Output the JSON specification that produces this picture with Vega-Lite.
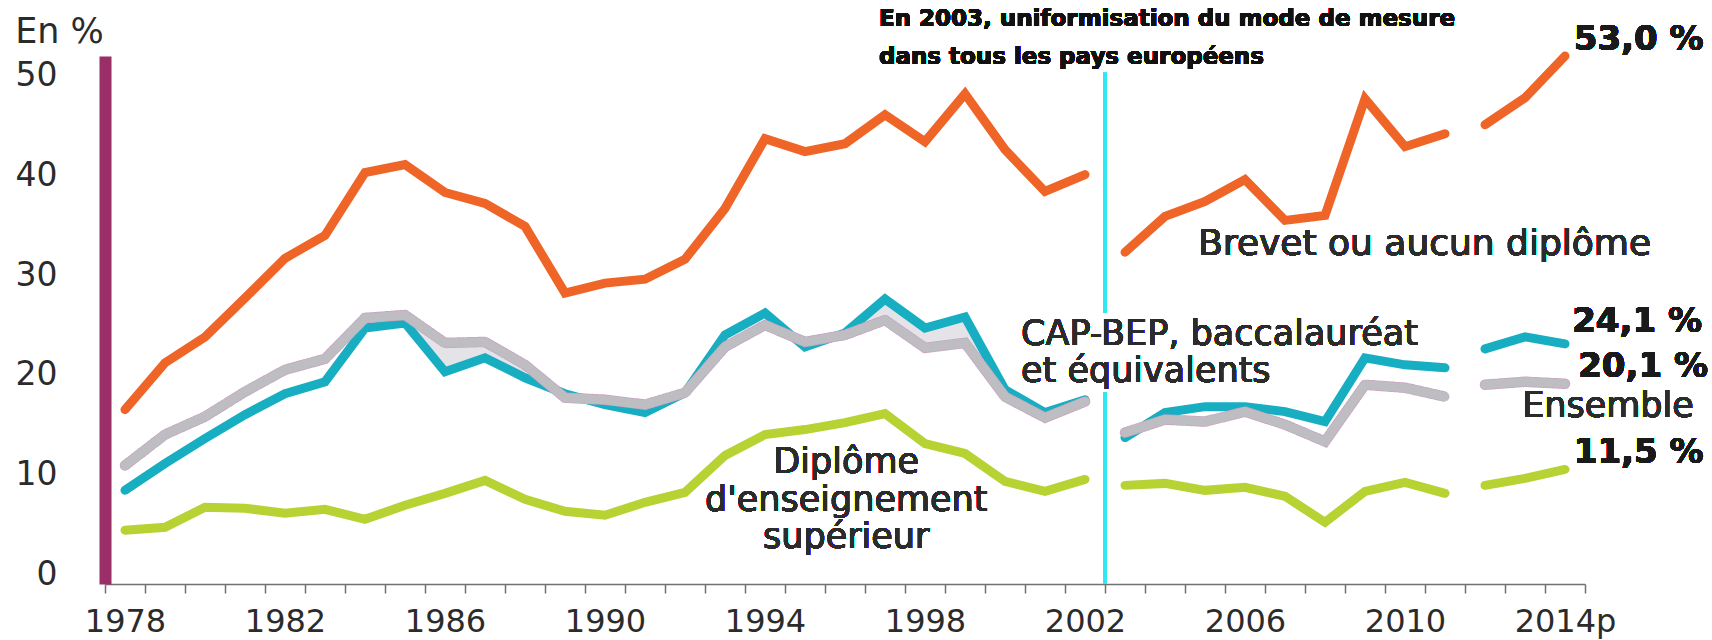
{
  "$schema": "https://vega.github.io/schema/vega-lite/v6.json",
  "width": 1480,
  "height": 528,
  "autosize": {"type": "none"},
  "padding": {"left": 105, "top": 56, "right": 127, "bottom": 56},
  "background": "white",
  "config": {"view": {"stroke": null}, "font": "DejaVu Sans"},
  "data": {
    "values": [
      {"year": 1978, "seg": "a", "brevet": 17.5, "cap": 9.4, "ensemble": 11.9, "sup": 5.4},
      {"year": 1979, "seg": "a", "brevet": 22.2, "cap": 12.1, "ensemble": 15.0, "sup": 5.7},
      {"year": 1980, "seg": "a", "brevet": 24.8, "cap": 14.6, "ensemble": 16.8, "sup": 7.7},
      {"year": 1981, "seg": "a", "brevet": 28.7, "cap": 17.0, "ensemble": 19.3, "sup": 7.6},
      {"year": 1982, "seg": "a", "brevet": 32.7, "cap": 19.1, "ensemble": 21.5, "sup": 7.1},
      {"year": 1983, "seg": "a", "brevet": 35.0, "cap": 20.3, "ensemble": 22.6, "sup": 7.5},
      {"year": 1984, "seg": "a", "brevet": 41.3, "cap": 25.7, "ensemble": 26.7, "sup": 6.5},
      {"year": 1985, "seg": "a", "brevet": 42.1, "cap": 26.2, "ensemble": 27.0, "sup": 7.9},
      {"year": 1986, "seg": "a", "brevet": 39.3, "cap": 21.3, "ensemble": 24.2, "sup": 9.1},
      {"year": 1987, "seg": "a", "brevet": 38.2, "cap": 22.7, "ensemble": 24.3, "sup": 10.4},
      {"year": 1988, "seg": "a", "brevet": 35.9, "cap": 20.7, "ensemble": 22.0, "sup": 8.5},
      {"year": 1989, "seg": "a", "brevet": 29.2, "cap": 19.1, "ensemble": 18.7, "sup": 7.3},
      {"year": 1990, "seg": "a", "brevet": 30.2, "cap": 18.0, "ensemble": 18.5, "sup": 6.9},
      {"year": 1991, "seg": "a", "brevet": 30.6, "cap": 17.2, "ensemble": 18.0, "sup": 8.2},
      {"year": 1992, "seg": "a", "brevet": 32.6, "cap": 19.2, "ensemble": 19.2, "sup": 9.2},
      {"year": 1993, "seg": "a", "brevet": 37.7, "cap": 25.0, "ensemble": 23.8, "sup": 12.9},
      {"year": 1994, "seg": "a", "brevet": 44.7, "cap": 27.2, "ensemble": 26.0, "sup": 15.0},
      {"year": 1995, "seg": "a", "brevet": 43.4, "cap": 23.8, "ensemble": 24.3, "sup": 15.5},
      {"year": 1996, "seg": "a", "brevet": 44.2, "cap": 25.2, "ensemble": 25.0, "sup": 16.2},
      {"year": 1997, "seg": "a", "brevet": 47.1, "cap": 28.6, "ensemble": 26.5, "sup": 17.1},
      {"year": 1998, "seg": "a", "brevet": 44.4, "cap": 25.7, "ensemble": 23.7, "sup": 14.1},
      {"year": 1999, "seg": "a", "brevet": 49.2, "cap": 26.8, "ensemble": 24.2, "sup": 13.1},
      {"year": 2000, "seg": "a", "brevet": 43.6, "cap": 19.5, "ensemble": 18.8, "sup": 10.3},
      {"year": 2001, "seg": "a", "brevet": 39.4, "cap": 17.2, "ensemble": 16.7, "sup": 9.3},
      {"year": 2002, "seg": "a", "brevet": 41.1, "cap": 18.5, "ensemble": 18.3, "sup": 10.5},
      {"year": 2003, "seg": "b", "brevet": 33.3, "cap": 14.7, "ensemble": 15.2, "sup": 9.9},
      {"year": 2004, "seg": "b", "brevet": 36.9, "cap": 17.2, "ensemble": 16.5, "sup": 10.1},
      {"year": 2005, "seg": "b", "brevet": 38.4, "cap": 17.8, "ensemble": 16.3, "sup": 9.4},
      {"year": 2006, "seg": "b", "brevet": 40.6, "cap": 17.8, "ensemble": 17.3, "sup": 9.7},
      {"year": 2007, "seg": "b", "brevet": 36.5, "cap": 17.3, "ensemble": 16.0, "sup": 8.8},
      {"year": 2008, "seg": "b", "brevet": 37.0, "cap": 16.3, "ensemble": 14.3, "sup": 6.2},
      {"year": 2009, "seg": "b", "brevet": 48.7, "cap": 22.7, "ensemble": 20.0, "sup": 9.3},
      {"year": 2010, "seg": "b", "brevet": 43.9, "cap": 22.0, "ensemble": 19.7, "sup": 10.2},
      {"year": 2011, "seg": "b", "brevet": 45.2, "cap": 21.7, "ensemble": 18.8, "sup": 9.1},
      {"year": 2012, "seg": "c", "brevet": 46.1, "cap": 23.6, "ensemble": 20.0, "sup": 9.9},
      {"year": 2013, "seg": "c", "brevet": 48.8, "cap": 24.8, "ensemble": 20.3, "sup": 10.6},
      {"year": 2014, "seg": "c", "brevet": 53.0, "cap": 24.1, "ensemble": 20.1, "sup": 11.5}
    ]
  },
  "encoding": {
    "x": {
      "field": "year",
      "type": "quantitative",
      "scale": {"domain": [1977.5, 2014.5], "nice": false, "zero": false},
      "axis": {
        "values": [1977.5, 1978.5, 1979.5, 1980.5, 1981.5, 1982.5, 1983.5, 1984.5, 1985.5, 1986.5, 1987.5, 1988.5, 1989.5, 1990.5, 1991.5, 1992.5, 1993.5, 1994.5, 1995.5, 1996.5, 1997.5, 1998.5, 1999.5, 2000.5, 2001.5, 2002.5, 2003.5, 2004.5, 2005.5, 2006.5, 2007.5, 2008.5, 2009.5, 2010.5, 2011.5, 2012.5, 2013.5, 2014.5],
        "title": null,
        "grid": false,
        "domainColor": "#707070",
        "domainWidth": 1.5,
        "tickColor": "#707070",
        "tickWidth": 1.5,
        "tickSize": 9,
        "labelExpr": "(datum.value - 1977.5) % 4 == 0 ? (datum.value == 2013.5 ? '2014p' : toString(datum.value + 0.5)) : ''",
        "labelOffset": 20,
        "labelPadding": 38,
        "labelBaseline": "alphabetic",
        "labelFont": "DejaVu Sans",
        "labelFontSize": 32,
        "labelColor": "#2b2b2b",
        "labelOverlap": false,
        "labelFlush": false,
        "labelBound": false
      }
    },
    "y": {
      "field": "cap",
      "type": "quantitative",
      "scale": {"domain": [0, 53], "nice": false},
      "axis": {
        "values": [0, 10, 20, 30, 40, 50],
        "title": "En %",
        "titleAngle": 0,
        "titleX": -46,
        "titleY": -14,
        "titleAlign": "center",
        "titleBaseline": "alphabetic",
        "titleFont": "DejaVu Sans",
        "titleFontSize": 35,
        "titleFontWeight": "normal",
        "titleColor": "#2b2b2b",
        "domainColor": "#9A2E66",
        "domainWidth": 12,
        "ticks": false,
        "tickSize": 0,
        "grid": false,
        "labelPadding": 48,
        "labelAlign": "right",
        "labelBaseline": "alphabetic",
        "labelFont": "DejaVu Sans",
        "labelFontSize": 33,
        "labelColor": "#2b2b2b",
        "labelOverlap": false,
        "labelFlush": false,
        "labelBound": false
      }
    }
  },
  "layer": [
    {
      "transform": [{"filter": "datum.year >= 1985 && datum.year <= 1988"}],
      "mark": {"type": "area", "color": "#e4e4e8"},
      "encoding": {
        "y2": {"field": "ensemble"}
      }
    },
    {
      "transform": [{"filter": "datum.year >= 1996 && datum.year <= 2000"}],
      "mark": {"type": "area", "color": "#e4e4e8"},
      "encoding": {
        "y2": {"field": "ensemble"}
      }
    },
    {
      "mark": {"type": "line", "color": "#17AEC2", "strokeWidth": 9, "strokeCap": "round", "strokeJoin": "miter"},
      "encoding": {
        "detail": {"field": "seg"}
      }
    },
    {
      "mark": {"type": "line", "color": "#c9a3c3", "strokeWidth": 10.5, "strokeCap": "round", "strokeJoin": "miter", "strokeDash": [2, 2]},
      "encoding": {
        "y": {"field": "ensemble", "type": "quantitative"},
        "detail": {"field": "seg"}
      }
    },
    {
      "mark": {"type": "line", "color": "#BEBDC2", "strokeWidth": 9, "strokeCap": "round", "strokeJoin": "miter"},
      "encoding": {
        "y": {"field": "ensemble", "type": "quantitative"},
        "detail": {"field": "seg"}
      }
    },
    {
      "mark": {"type": "line", "color": "#B6D233", "strokeWidth": 9, "strokeCap": "round", "strokeJoin": "miter"},
      "encoding": {
        "y": {"field": "sup", "type": "quantitative"},
        "detail": {"field": "seg"}
      }
    },
    {
      "mark": {"type": "line", "color": "#EF6427", "strokeWidth": 9, "strokeCap": "round", "strokeJoin": "miter"},
      "encoding": {
        "y": {"field": "brevet", "type": "quantitative"},
        "detail": {"field": "seg"}
      }
    },
    {
      "mark": {"type": "rule", "color": "#2EE9F1", "strokeWidth": 4},
      "encoding": {
        "x": {"datum": 2002.5},
        "y": {"datum": 51.3},
        "y2": {"datum": 27.2}
      }
    },
    {
      "mark": {"type": "rule", "color": "#2EE9F1", "strokeWidth": 4},
      "encoding": {
        "x": {"datum": 2002.5},
        "y": {"datum": 19.2},
        "y2": {"datum": 0}
      }
    },
    {
      "mark": {"type": "text", "align": "left", "baseline": "alphabetic", "font": "DejaVu Sans", "fontSize": 23, "fontWeight": "bold", "color": "#111111", "lineHeight": 38},
      "encoding": {
        "x": {"datum": 1996.85},
        "y": {"datum": 56.0},
        "text": {"value": ["En 2003, uniformisation du mode de mesure", "dans tous les pays européens"]}
      }
    },
    {
      "mark": {"type": "text", "align": "left", "baseline": "alphabetic", "font": "DejaVu Sans", "fontSize": 34, "fontWeight": "bold", "color": "#1a1a1a"},
      "encoding": {
        "x": {"datum": 2014.22},
        "y": {"datum": 53.6},
        "text": {"value": "53,0 %"}
      }
    },
    {
      "mark": {"type": "text", "align": "left", "baseline": "alphabetic", "font": "DejaVu Sans", "fontSize": 34, "fontWeight": "bold", "color": "#1a1a1a"},
      "encoding": {
        "x": {"datum": 2014.18},
        "y": {"datum": 25.3},
        "text": {"value": "24,1 %"}
      }
    },
    {
      "mark": {"type": "text", "align": "left", "baseline": "alphabetic", "font": "DejaVu Sans", "fontSize": 34, "fontWeight": "bold", "color": "#1a1a1a"},
      "encoding": {
        "x": {"datum": 2014.33},
        "y": {"datum": 20.8},
        "text": {"value": "20,1 %"}
      }
    },
    {
      "mark": {"type": "text", "align": "left", "baseline": "alphabetic", "font": "DejaVu Sans", "fontSize": 34, "fontWeight": "bold", "color": "#1a1a1a"},
      "encoding": {
        "x": {"datum": 2014.22},
        "y": {"datum": 12.15},
        "text": {"value": "11,5 %"}
      }
    },
    {
      "mark": {"type": "text", "align": "left", "baseline": "alphabetic", "font": "DejaVu Sans", "fontSize": 35, "color": "#2b2b2b"},
      "encoding": {
        "x": {"datum": 2012.93},
        "y": {"datum": 16.77},
        "text": {"value": "Ensemble"}
      }
    },
    {
      "mark": {"type": "text", "align": "left", "baseline": "alphabetic", "font": "DejaVu Sans", "fontSize": 36, "color": "#2b2b2b"},
      "encoding": {
        "x": {"datum": 2004.83},
        "y": {"datum": 33.0},
        "text": {"value": "Brevet ou aucun diplôme"}
      }
    },
    {
      "mark": {"type": "text", "align": "left", "baseline": "alphabetic", "font": "DejaVu Sans", "fontSize": 35, "color": "#2b2b2b", "lineHeight": 37},
      "encoding": {
        "x": {"datum": 2000.4},
        "y": {"datum": 24.0},
        "text": {"value": ["CAP-BEP, baccalauréat", "et équivalents"]}
      }
    },
    {
      "mark": {"type": "text", "align": "center", "baseline": "alphabetic", "font": "DejaVu Sans", "fontSize": 35, "color": "#2b2b2b", "lineHeight": 37.5},
      "encoding": {
        "x": {"datum": 1996.03},
        "y": {"datum": 11.14},
        "text": {"value": ["Diplôme", "d'enseignement", "supérieur"]}
      }
    }
  ]
}
